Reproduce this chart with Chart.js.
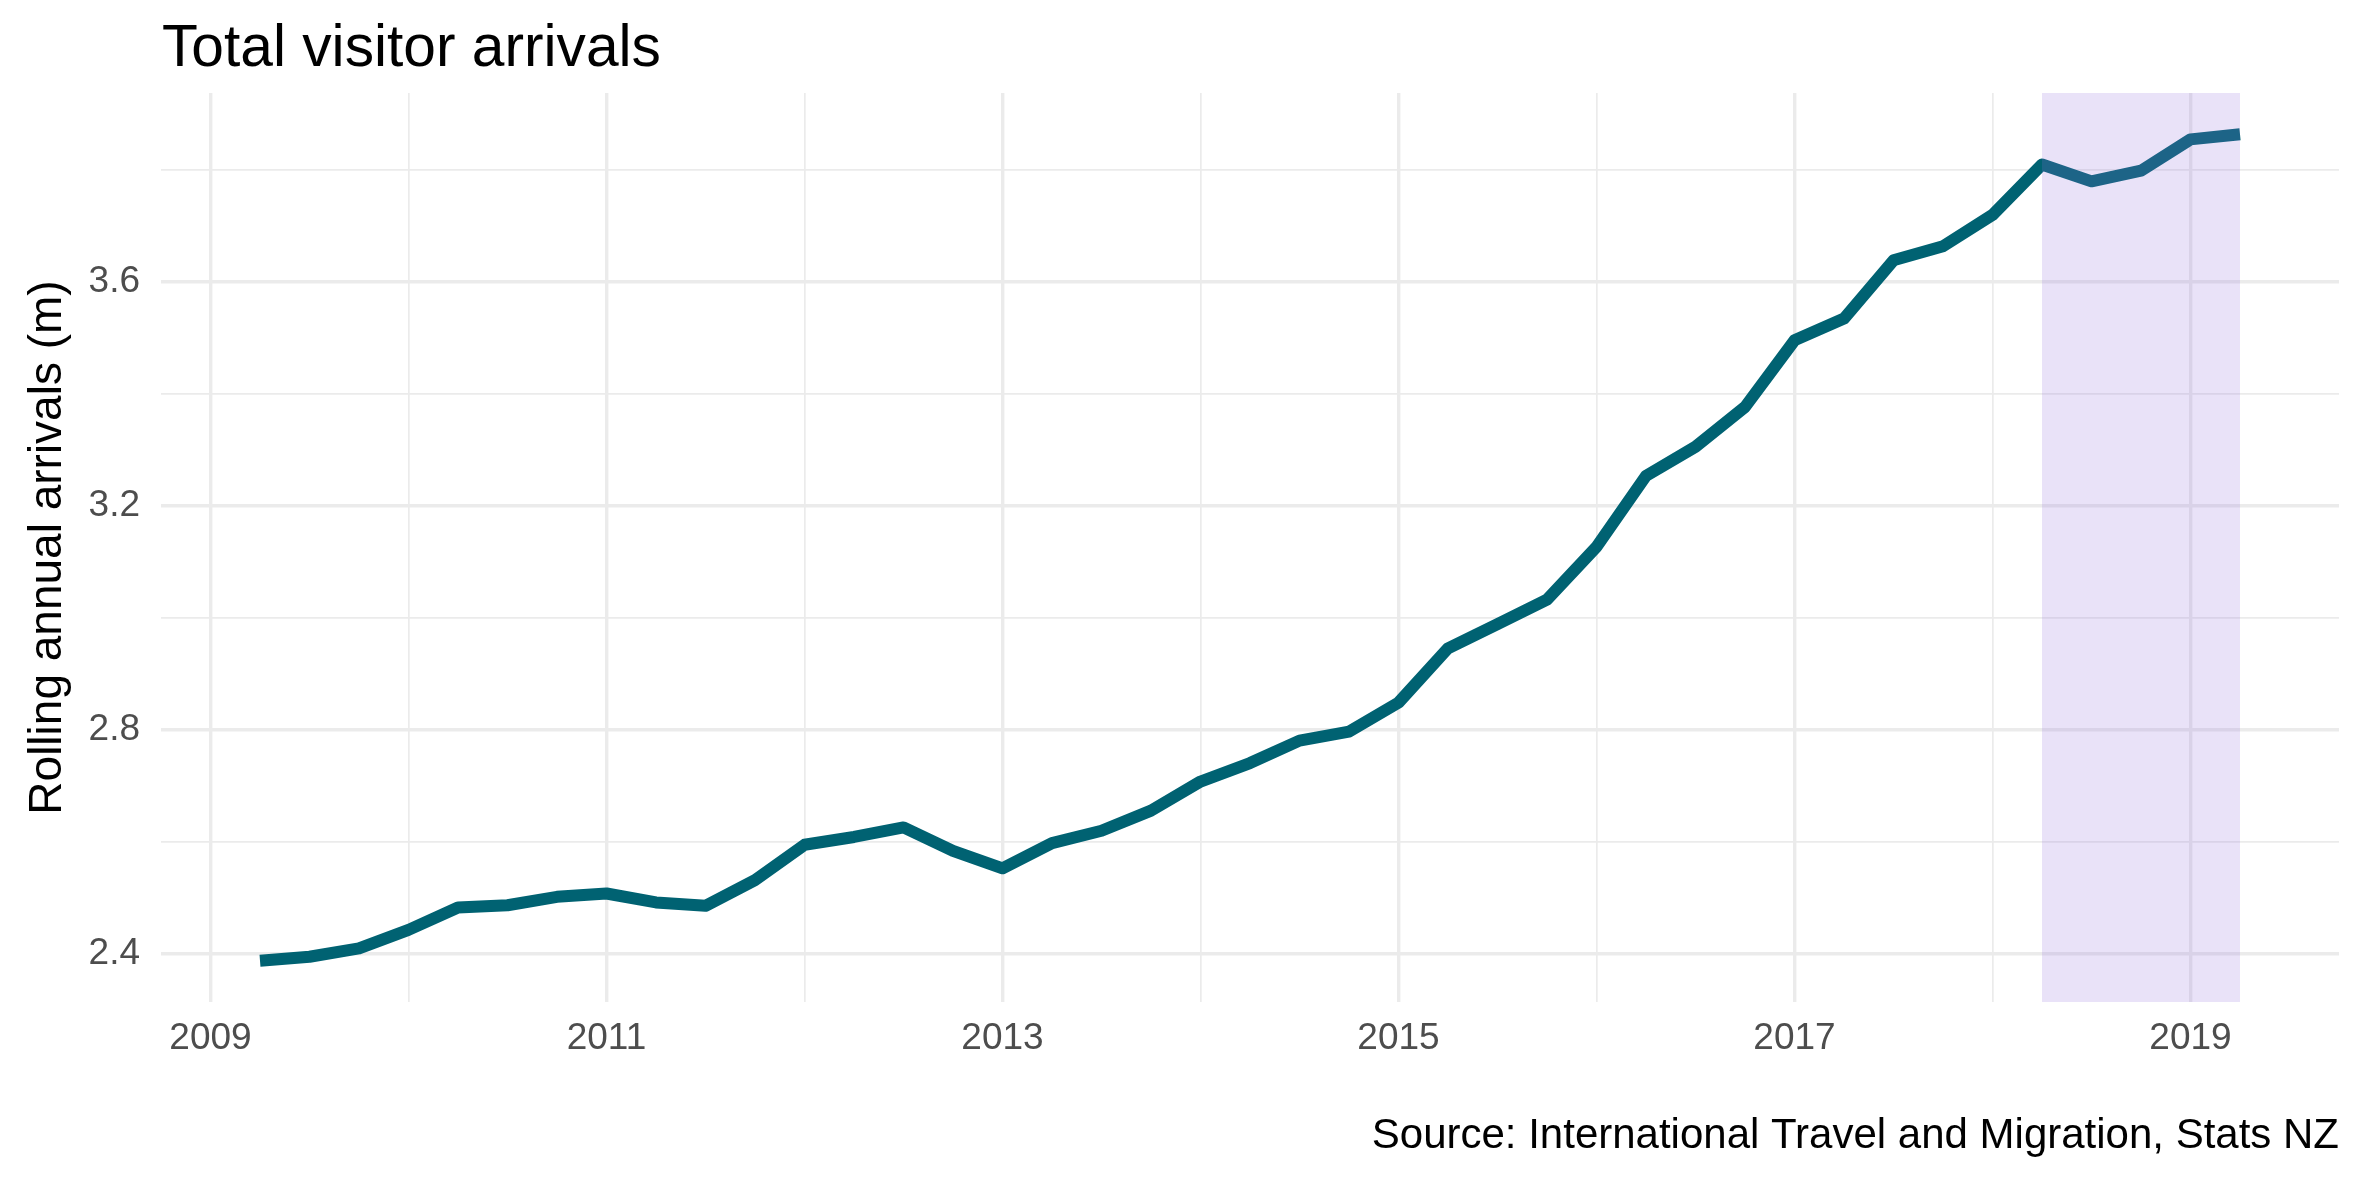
<!DOCTYPE html>
<html>
<head>
<meta charset="utf-8">
<title>Total visitor arrivals</title>
<script src="https://cdn.jsdelivr.net/npm/chart.js@4/dist/chart.umd.min.js"></script>
<style>
  html, body { margin: 0; padding: 0; background: #fff; }
  canvas { display: block; }
</style>
</head>
<body>
<canvas id="chegadasChart" width="2362" height="1181"></canvas>
<script>
// trimestres (fim do trimestre, AAAA-MM)
const trimestres = [
  '2009-03', '2009-06', '2009-09', '2009-12',
  '2010-03', '2010-06', '2010-09', '2010-12',
  '2011-03', '2011-06', '2011-09', '2011-12',
  '2012-03', '2012-06', '2012-09', '2012-12',
  '2013-03', '2013-06', '2013-09', '2013-12',
  '2014-03', '2014-06', '2014-09', '2014-12',
  '2015-03', '2015-06', '2015-09', '2015-12',
  '2016-03', '2016-06', '2016-09', '2016-12',
  '2017-03', '2017-06', '2017-09', '2017-12',
  '2018-03', '2018-06', '2018-09', '2018-12',
  '2019-03'
];
// chegadas anuais acumuladas (milhões)
const chegadas = [
  2.388, 2.395, 2.410, 2.443,
  2.483, 2.487, 2.502, 2.508,
  2.492, 2.486, 2.532, 2.595,
  2.609, 2.626, 2.584, 2.553,
  2.598, 2.620, 2.656, 2.708,
  2.741, 2.781, 2.797, 2.849,
  2.946, 2.989, 3.033, 3.127,
  3.254, 3.306, 3.377, 3.496,
  3.535, 3.639, 3.664, 3.720,
  3.810, 3.780, 3.799, 3.855,
  3.864
];
// faixa destacada (último ano)
const destaque = ['2018-03', '2019-03'];

// ticks
const anosMaiores = [2009, 2011, 2013, 2015, 2017, 2019];
const anosMenores = [2010, 2012, 2014, 2016, 2018];
const ticksY = [2.4, 2.8, 3.2, 3.6];
const ticksYMenores = [2.6, 3.0, 3.4, 3.8];

const titulo = 'Total visitor arrivals';
const tituloEixoY = 'Rolling annual arrivals (m)';
const fonte = 'Source: International Travel and Migration, Stats NZ';

const FAMILIA = "'Liberation Sans', Arial, sans-serif";
const GRADE = '#EBEBEB';

function paraAno(s) {
  const [a, m] = s.split('-').map(Number);
  return a + m / 12;
}

const pontos = trimestres.map((t, i) => ({ x: paraAno(t), y: chegadas[i] }));

// limites com 5% de folga, como no ggplot
const xs = pontos.map(p => p.x);
const xMin = Math.min(...xs), xMax = Math.max(...xs);
const yMin = Math.min(...chegadas), yMax = Math.max(...chegadas);
const folgaX = (xMax - xMin) * 0.05, folgaY = (yMax - yMin) * 0.05;

const todosAnos = anosMaiores.concat(anosMenores).sort((a, b) => a - b);
const todosY = ticksY.concat(ticksYMenores).sort((a, b) => a - b);
const ehMaior = (lista, v) => lista.some(t => Math.abs(t - v) < 1e-6);

// faixa roxa + textos
const extras = {
  id: 'extras',
  afterDatasetsDraw(chart) {
    const { ctx, chartArea, scales } = chart;
    const x0 = scales.x.getPixelForValue(paraAno(destaque[0]));
    const x1 = scales.x.getPixelForValue(paraAno(destaque[1]));
    ctx.save();
    ctx.fillStyle = 'rgba(147, 112, 219, 0.2)';
    ctx.fillRect(x0, chartArea.top, x1 - x0, chartArea.bottom - chartArea.top);
    ctx.restore();
  },
  afterDraw(chart) {
    const { ctx, chartArea } = chart;
    ctx.save();
    ctx.fillStyle = '#000';
    ctx.textBaseline = 'alphabetic';
    ctx.font = '58.7px ' + FAMILIA;
    ctx.textAlign = 'left';
    ctx.fillText(titulo, chartArea.left + 1, 66);
    ctx.font = '42px ' + FAMILIA;
    ctx.textAlign = 'right';
    ctx.fillText(fonte, chartArea.right, 1148);
    ctx.restore();
  }
};

new Chart(document.getElementById('chegadasChart').getContext('2d'), {
  type: 'line',
  data: {
    datasets: [{
      label: 'Total visitor arrivals',
      data: pontos,
      borderColor: '#006272',
      borderWidth: 12,
      borderJoinStyle: 'round',
      borderCapStyle: 'butt',
      pointRadius: 0,
      tension: 0,
      fill: false
    }]
  },
  options: {
    responsive: false,
    animation: false,
    devicePixelRatio: 1,
    layout: { padding: { top: 93, right: 23, bottom: 0, left: 0 } },
    plugins: {
      legend: { display: false },
      tooltip: { enabled: false },
      title: { display: false }
    },
    scales: {
      x: {
        type: 'linear',
        min: xMin - folgaX,
        max: xMax + folgaX,
        afterBuildTicks: s => { s.ticks = todosAnos.map(v => ({ value: v })); },
        afterFit: s => { s.height = 179; },
        border: { display: false },
        grid: {
          drawTicks: false,
          color: GRADE,
          lineWidth: c => ehMaior(anosMaiores, c.tick.value) ? 3.4 : 1.7
        },
        ticks: {
          autoSkip: false,
          maxRotation: 0,
          padding: 15,
          color: '#4D4D4D',
          font: { family: FAMILIA, size: 37 },
          callback: v => ehMaior(anosMaiores, v) ? String(v) : ''
        }
      },
      y: {
        type: 'linear',
        min: yMin - folgaY,
        max: yMax + folgaY,
        afterBuildTicks: s => { s.ticks = todosY.map(v => ({ value: v })); },
        afterFit: s => { s.width = 161; },
        border: { display: false },
        grid: {
          drawTicks: false,
          color: GRADE,
          lineWidth: c => ehMaior(ticksY, c.tick.value) ? 3.4 : 1.7
        },
        ticks: {
          padding: 21,
          color: '#4D4D4D',
          font: { family: FAMILIA, size: 37 },
          callback: v => ehMaior(ticksY, v) ? v.toFixed(1) : ''
        },
        title: {
          display: true,
          text: tituloEixoY,
          color: '#000',
          font: { family: FAMILIA, size: 46 },
          padding: { top: 21, bottom: 0 }
        }
      }
    }
  },
  plugins: [extras]
});
</script>
</body>
</html>
